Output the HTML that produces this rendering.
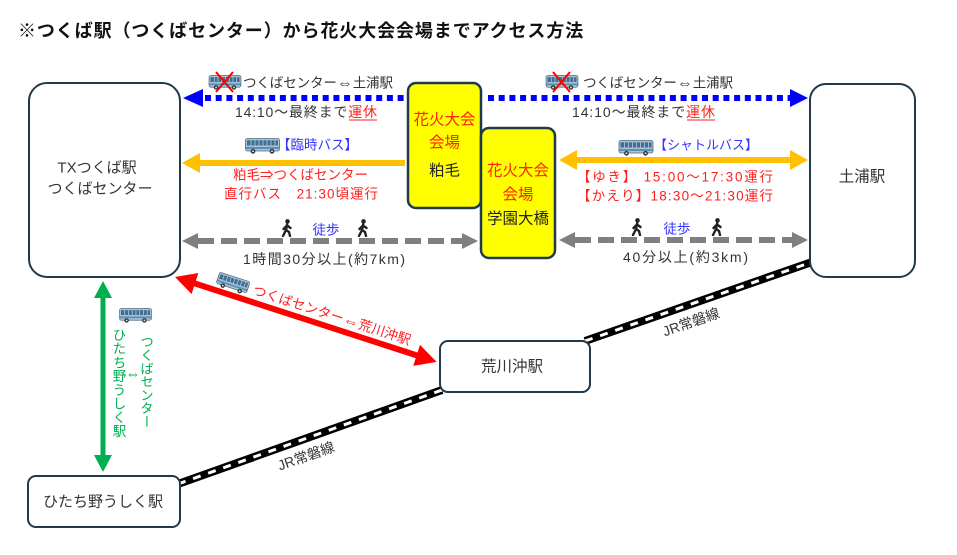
<!DOCTYPE html>
<html><head><meta charset="utf-8">
<style>
html,body{margin:0;padding:0;background:#fff;}
svg{display:block;font-family:"Liberation Sans","Noto Sans CJK JP",sans-serif;}
</style></head>
<body>
<svg width="957" height="555" viewBox="0 0 957 555" xmlns="http://www.w3.org/2000/svg">
<defs>
<symbol id="bus" viewBox="0 0 35 16">
 <rect x="0.5" y="0.5" width="34" height="12.5" rx="2" fill="#a9c3d6" stroke="#4d6b80" stroke-width="0.8"/>
 <rect x="2" y="2.3" width="31" height="5.2" fill="#3f6e92"/>
 <g stroke="#c9dbe8" stroke-width="0.7">
  <line x1="6" y1="2.3" x2="6" y2="7.5"/><line x1="10" y1="2.3" x2="10" y2="7.5"/><line x1="14" y1="2.3" x2="14" y2="7.5"/><line x1="18" y1="2.3" x2="18" y2="7.5"/><line x1="22" y1="2.3" x2="22" y2="7.5"/><line x1="26" y1="2.3" x2="26" y2="7.5"/><line x1="30" y1="2.3" x2="30" y2="7.5"/>
 </g>
 <rect x="1" y="9" width="33" height="2" fill="#5d8fb5"/>
 <circle cx="8" cy="13.3" r="2.4" fill="#333"/><circle cx="8" cy="13.3" r="1" fill="#ddd"/>
 <circle cx="27" cy="13.3" r="2.4" fill="#333"/><circle cx="27" cy="13.3" r="1" fill="#ddd"/>
</symbol>
<symbol id="walk" viewBox="0 0 12 18">
 <circle cx="6.5" cy="2.4" r="2.3" fill="#222"/>
 <path d="M6.2 5 L5 11 L2 17 M5 11 L8 13 L9 17 M6 6.5 L2.5 10 M6 6.5 L9.5 9" stroke="#222" stroke-width="2.4" stroke-linecap="round" stroke-linejoin="round" fill="none"/>
</symbol>
</defs>

<!-- Title -->
<text x="18" y="31" font-size="18" font-weight="bold" letter-spacing="0.9" fill="#111" dominant-baseline="central">※つくば駅（つくばセンター）から花火大会会場までアクセス方法</text>

<!-- JR lines -->
<g>
 <line x1="178" y1="484" x2="442" y2="390" stroke="#000" stroke-width="8"/>
 <line x1="178" y1="484" x2="442" y2="390" stroke="#fff" stroke-width="3" stroke-dasharray="8 8"/>
 <line x1="585" y1="341" x2="812" y2="262" stroke="#000" stroke-width="8"/>
 <line x1="585" y1="341" x2="812" y2="262" stroke="#fff" stroke-width="3" stroke-dasharray="8 8"/>
</g>
<text transform="translate(306,456) rotate(-19.6)" font-size="14" fill="#333" text-anchor="middle" dominant-baseline="central">JR常磐線</text>
<text transform="translate(691,322) rotate(-19.2)" font-size="14" fill="#333" text-anchor="middle" dominant-baseline="central">JR常磐線</text>

<!-- Blue dotted arrows -->
<line x1="205" y1="98" x2="408" y2="98" stroke="#0000ff" stroke-width="6" stroke-dasharray="6 4.7"/>
<polygon points="183,98 203,89 203,107" fill="#0000ff"/>
<line x1="488" y1="98" x2="790" y2="98" stroke="#0000ff" stroke-width="6" stroke-dasharray="6 4.7"/>
<polygon points="808,98 790,89 790,107" fill="#0000ff"/>

<!-- crossed buses -->
<use href="#bus" x="208" y="75" width="34" height="15"/>
<line x1="216" y1="72" x2="233" y2="92" stroke="#ff0000" stroke-width="2"/>
<line x1="233" y1="72" x2="216" y2="92" stroke="#ff0000" stroke-width="2"/>
<use href="#bus" x="545" y="75" width="34" height="15"/>
<line x1="553" y1="72" x2="570" y2="92" stroke="#ff0000" stroke-width="2"/>
<line x1="570" y1="72" x2="553" y2="92" stroke="#ff0000" stroke-width="2"/>

<text x="243" y="83" font-size="13.5" fill="#333" dominant-baseline="central" textLength="150">つくばセンター<tspan font-size="16">⇔</tspan>土浦駅</text>
<text x="583" y="83" font-size="13.5" fill="#333" dominant-baseline="central" textLength="150">つくばセンター<tspan font-size="16">⇔</tspan>土浦駅</text>
<text x="235" y="112" font-size="14" fill="#333" dominant-baseline="central" textLength="142">14:10～最終まで<tspan fill="#ff2020">運休</tspan></text>
<line x1="349" y1="120" x2="377" y2="120" stroke="#ff2020" stroke-width="1"/>
<text x="572" y="112" font-size="14" fill="#333" dominant-baseline="central" textLength="143">14:10～最終まで<tspan fill="#ff2020">運休</tspan></text>
<line x1="687" y1="120" x2="715" y2="120" stroke="#ff2020" stroke-width="1"/>

<!-- Orange arrows -->
<line x1="198" y1="163" x2="405" y2="163" stroke="#ffc000" stroke-width="6"/>
<polygon points="182,163 200,153 200,173" fill="#ffc000"/>
<use href="#bus" x="245" y="138" width="35" height="16"/>
<text x="277" y="145" font-size="13.5" fill="#3535ff" dominant-baseline="central">【臨時バス】</text>
<text x="300.5" y="175" font-size="13.5" fill="#ff2020" text-anchor="middle" dominant-baseline="central" textLength="135">粕毛⇒つくばセンター</text>
<text x="301" y="194" font-size="13.5" fill="#ff2020" text-anchor="middle" dominant-baseline="central" textLength="154">直行バス　21:30頃運行</text>

<line x1="575" y1="160" x2="792" y2="160" stroke="#ffc000" stroke-width="6"/>
<polygon points="559,160 577,150 577,170" fill="#ffc000"/>
<polygon points="808,160 790,150 790,170" fill="#ffc000"/>
<use href="#bus" x="618" y="140" width="36" height="16"/>
<text x="654" y="145" font-size="13" fill="#3535ff" dominant-baseline="central">【シャトルバス】</text>
<text x="577" y="177" font-size="13.5" fill="#ff2020" dominant-baseline="central" textLength="196">【ゆき】 15:00～17:30運行</text>
<text x="577" y="196" font-size="13.5" fill="#ff2020" dominant-baseline="central" textLength="196">【かえり】18:30～21:30運行</text>

<!-- Gray walking arrows -->
<line x1="198" y1="241" x2="462" y2="241" stroke="#7f7f7f" stroke-width="6" stroke-dasharray="16 7"/>
<polygon points="182,241 198,233 198,249" fill="#7f7f7f"/>
<polygon points="478,241 462,233 462,249" fill="#7f7f7f"/>
<use href="#walk" x="281" y="219" width="12" height="18"/>
<use href="#walk" x="357" y="219" width="12" height="18"/>
<text x="326" y="230" font-size="13.5" fill="#3535ff" text-anchor="middle" dominant-baseline="central">徒歩</text>
<text x="243" y="259" font-size="14" fill="#333" dominant-baseline="central" textLength="162">1時間30分以上(約7km)</text>

<line x1="575" y1="240" x2="792" y2="240" stroke="#7f7f7f" stroke-width="6" stroke-dasharray="16 7"/>
<polygon points="559,240 575,232 575,248" fill="#7f7f7f"/>
<polygon points="808,240 792,232 792,248" fill="#7f7f7f"/>
<use href="#walk" x="631" y="218" width="12" height="18"/>
<use href="#walk" x="711" y="218" width="12" height="18"/>
<text x="677" y="229" font-size="13.5" fill="#3535ff" text-anchor="middle" dominant-baseline="central">徒歩</text>
<text x="623" y="257" font-size="14" fill="#333" dominant-baseline="central" textLength="125">40分以上(約3km)</text>

<!-- Red arrow -->
<g transform="translate(175,277) rotate(17.97)">
 <line x1="18" y1="0" x2="257" y2="0" stroke="#ff0000" stroke-width="6"/>
 <polygon points="0,0 21,-11 21,11" fill="#ff0000"/>
 <polygon points="275,0 254,-11 254,11" fill="#ff0000"/>
 <use href="#bus" x="40" y="-19" width="34" height="15"/>
 <text x="161" y="-12" font-size="13.5" fill="#ff2020" text-anchor="middle" dominant-baseline="central" textLength="165">つくばセンター<tspan font-size="16">⇔</tspan>荒川沖駅</text>
</g>

<!-- Green arrow -->
<line x1="103" y1="295" x2="103" y2="458" stroke="#00b050" stroke-width="5"/>
<polygon points="103,281 94,298 112,298" fill="#00b050"/>
<polygon points="103,472 94,455 112,455" fill="#00b050"/>
<use href="#bus" x="118" y="308" width="35" height="15"/>
<text x="118" y="328" font-size="13.5" fill="#00b050" style="writing-mode:vertical-rl" letter-spacing="0.25">ひたち野うしく駅</text>
<text x="146" y="335" font-size="13.3" fill="#00b050" style="writing-mode:vertical-rl">つくばセンター</text>
<text x="133" y="374" font-size="15" fill="#00b050" text-anchor="middle" dominant-baseline="central">⇔</text>

<!-- Station boxes -->
<g fill="#fff" stroke="#1e3a4c" stroke-width="2">
 <rect x="29" y="83" width="151" height="194" rx="18"/>
 <rect x="810" y="84" width="105" height="193" rx="16"/>
 <rect x="440" y="341" width="150" height="51" rx="8"/>
 <rect x="28" y="476" width="152" height="51" rx="8"/>
</g>
<g font-size="15" fill="#333" text-anchor="middle" dominant-baseline="central">
 <text x="97" y="168">TXつくば駅</text>
 <text x="100" y="189">つくばセンター</text>
 <text x="862" y="177" font-size="15.5">土浦駅</text>
 <text x="512" y="367" font-size="15.5">荒川沖駅</text>
 <text x="103" y="502">ひたち野うしく駅</text>
</g>

<!-- Hanabi boxes -->
<g fill="#ffff00" stroke="#1e3a4c" stroke-width="2.5">
 <rect x="408" y="83" width="73" height="125" rx="8"/>
 <rect x="481" y="128" width="74" height="130" rx="8"/>
</g>
<g font-size="15.5" text-anchor="middle" dominant-baseline="central">
 <text x="444.5" y="120" fill="#ff2200">花火大会</text>
 <text x="444.5" y="143" fill="#ff2200">会場</text>
 <text x="444.5" y="171" fill="#222">粕毛</text>
 <text x="518" y="171" fill="#ff2200">花火大会</text>
 <text x="518" y="195" fill="#ff2200">会場</text>
 <text x="518" y="219" fill="#222">学園大橋</text>
</g>
</svg>
</body></html>
